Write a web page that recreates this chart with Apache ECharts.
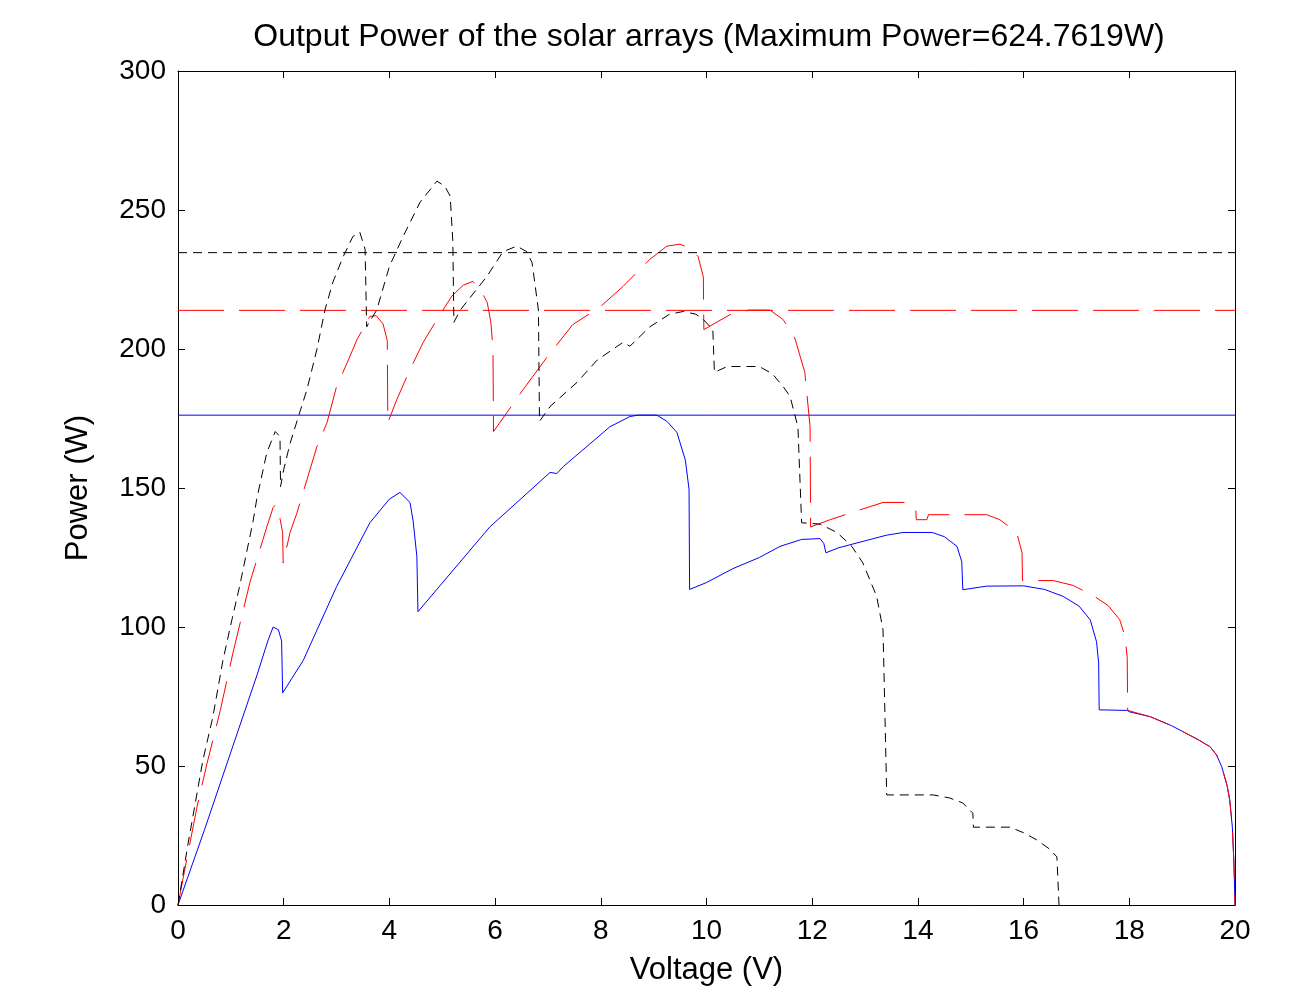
<!DOCTYPE html>
<html>
<head>
<meta charset="utf-8">
<script src="https://cdn.jsdelivr.net/npm/echarts@6/dist/echarts.min.js"></script>
<style>
html,body{margin:0;padding:0;background:#fff;}
#chart{width:1303px;height:998px;}
</style>
</head>
<body>
<div id="chart"></div>
<script>
// ---- data (Voltage V, Power W) ----
const titleText = 'Output Power of the solar arrays (Maximum Power=624.7619W)';
const xTicks = [0, 2, 4, 6, 8, 10, 12, 14, 16, 18, 20];
const yTicks = [0, 50, 100, 150, 200, 250, 300];

const sharedTail = [[18.0,69.5],[18.4,67.7],[18.8,64.5],[19.02,62.3],[19.3,59.5],[19.53,56.9],[19.65,54],[19.75,49.7],[19.85,43],[19.9,37.8],[19.95,28],[19.98,15],[20,0]];

const bluePower = [[0,0],[0.5,27],[1.0,55],[1.5,83],[1.7,95],[1.8,100],[1.9,99],[1.96,95],[1.98,76.3],[2.37,88],[3.0,114.5],[3.63,137.5],[4.0,146],[4.2,148.4],[4.39,144.8],[4.45,138],[4.52,125.3],[4.54,105.5],[5.9,136],[7.04,155.6],[7.17,155.2],[7.29,157.7],[7.74,165],[8.17,172],[8.55,175.7],[8.7,176.2],[9.06,176.2],[9.25,174],[9.44,170],[9.6,160],[9.67,149.5],[9.68,113.5],[10,116],[10.5,121],[11,125],[11.39,129],[11.8,131.5],[12.15,131.8],[12.22,130],[12.26,126.7],[12.5,128.5],[13,131],[13.4,133],[13.72,134],[14.27,134],[14.5,132.5],[14.74,129],[14.83,123.5],[14.85,113.4],[15.3,114.7],[16.0,114.8],[16.4,113.5],[16.75,111],[17.05,107.5],[17.26,102.6],[17.38,94.7],[17.42,87],[17.43,70.2],[17.96,70]];

const redPower = [[0,0],[0.1,10],[0.36,35.3],[0.55,51],[0.8,70],[1.04,90.7],[1.36,116],[1.68,136],[1.8,143],[1.85,144],[1.92,140],[1.98,134],[1.99,123],[2.12,134],[2.25,141],[2.44,153],[2.63,165],[2.82,173.5],[3.0,186.5],[3.2,195],[3.39,203.5],[3.63,211.7],[3.75,212],[3.88,209],[3.96,203],[3.97,173.5],[4.14,181.8],[4.39,192.6],[4.64,202.4],[4.9,210.6],[5.18,219],[5.4,223],[5.58,224.3],[5.7,222],[5.85,216.8],[5.92,209.6],[5.96,200],[5.97,170.3],[6.53,185.4],[6.98,197],[7.47,208.8],[7.98,215],[8.42,222.5],[8.93,232.3],[9.25,237],[9.5,237.7],[9.7,236],[9.84,233.3],[9.94,226],[9.95,207],[10.45,212.4],[10.8,214],[11.2,214],[11.45,210.6],[11.67,204],[11.86,191.6],[11.96,172],[11.97,136],[12.34,138.6],[12.8,141.5],[13.34,144.8],[13.81,144.8],[13.96,142.2],[13.97,138.6],[14.17,138.6],[14.2,140.4],[15.3,140.4],[15.55,138.6],[15.87,134],[15.97,126.7],[15.98,116.7],[16.56,116.7],[16.93,115],[17.3,111.5],[17.6,107.7],[17.82,102.6],[17.92,96.5],[17.96,89.3],[17.97,70]];

const blackPower = [[0,0],[0.19,22],[0.47,52],[0.66,67.7],[0.85,88],[1.02,102.6],[1.17,115],[1.3,127],[1.42,138],[1.49,146],[1.68,162.7],[1.84,170.3],[1.93,168.5],[1.94,150.5],[2.0,156.6],[2.12,166],[2.3,177],[2.44,185.4],[2.63,200],[2.78,214],[2.93,224],[3.12,233],[3.31,240.5],[3.44,242],[3.54,235.9],[3.57,208],[3.76,214],[4.0,229.7],[4.26,240.5],[4.58,252.8],[4.9,260.4],[5.05,258.5],[5.15,255],[5.2,238.8],[5.22,209.6],[5.34,214],[5.84,226],[6.15,235],[6.41,237],[6.6,235],[6.7,231],[6.82,214],[6.84,174],[7.04,179.3],[7.55,188],[7.93,196],[8.42,202.4],[8.55,201],[8.93,208],[9.3,212.5],[9.56,213.5],[9.8,212.5],[9.94,210.6],[10.12,207],[10.15,191.6],[10.39,193.7],[11.0,193.7],[11.25,191],[11.45,186.5],[11.58,183],[11.73,172],[11.8,137.5],[12.15,137],[12.47,134],[12.75,129],[12.96,123],[13.22,111],[13.34,99],[13.41,39.6],[14.29,39.6],[14.6,38.5],[14.85,36.7],[15.04,33],[15.05,28],[15.74,28],[16.0,26],[16.25,23.4],[16.5,20],[16.63,17.3],[16.67,0]];

const maxBlue = 176.2;
const maxRed = 213.9;
const maxBlack = 234.66;
const xRange = [0, 20];

// ---- chart ----
const FONT = 'Liberation Sans';
const chart = echarts.init(document.getElementById('chart'), null, {renderer: 'canvas'});

function hLine(v) { return [[xRange[0], v], [xRange[1], v]]; }

const axisCommon = {
  axisLine: {show: true, onZero: false, lineStyle: {color: '#000', width: 1}},
  axisTick: {show: true, inside: true, length: 7, lineStyle: {color: '#000', width: 1}},
  splitLine: {show: false},
  minorTick: {show: false}
};

chart.setOption({
  animation: false,
  backgroundColor: '#fff',
  textStyle: {fontFamily: FONT},
  title: {
    text: titleText,
    left: 704,
    top: 16,
    textAlign: 'center',
    textStyle: {fontFamily: FONT, fontSize: 32, fontWeight: 'normal', color: '#000'}
  },
  grid: {left: 178, right: 68, top: 71, bottom: 93, containLabel: false},
  xAxis: [
    Object.assign({}, axisCommon, {
      type: 'value', position: 'bottom', min: 0, max: 20, interval: 2,
      name: 'Voltage (V)', nameLocation: 'middle', nameGap: 50,
      nameTextStyle: {fontFamily: FONT, fontSize: 31, color: '#000'},
      axisLabel: {show: true, margin: 12, color: '#000', fontFamily: FONT, fontSize: 28,
        formatter: v => xTicks.includes(v) ? String(v) : ''}
    }),
    Object.assign({}, axisCommon, {
      type: 'value', position: 'top', min: 0, max: 20, interval: 2,
      axisLabel: {show: false}
    })
  ],
  yAxis: [
    Object.assign({}, axisCommon, {
      type: 'value', position: 'left', min: 0, max: 300, interval: 50,
      name: 'Power (W)', nameLocation: 'middle', nameGap: 84,
      nameTextStyle: {fontFamily: FONT, fontSize: 31, color: '#000'},
      axisLabel: {show: true, margin: 12, color: '#000', fontFamily: FONT, fontSize: 28,
        formatter: v => yTicks.includes(v) ? String(v) : ''}
    }),
    Object.assign({}, axisCommon, {
      type: 'value', position: 'right', min: 0, max: 300, interval: 50,
      axisLabel: {show: false}
    })
  ],
  series: [
    {type: 'line', name: 'blue', data: bluePower.concat(sharedTail), showSymbol: false, symbol: 'none',
      lineStyle: {color: '#0000ff', width: 1, type: 'solid'}, z: 2},
    {type: 'line', name: 'red', data: redPower.concat(sharedTail), showSymbol: false, symbol: 'none',
      lineStyle: {color: '#ff0000', width: 1, type: [46, 15]}, z: 3},
    {type: 'line', name: 'black', data: blackPower, showSymbol: false, symbol: 'none',
      lineStyle: {color: '#000000', width: 1, type: [9, 6]}, z: 4},
    {type: 'line', name: 'maxBlue', data: hLine(maxBlue), showSymbol: false, symbol: 'none',
      lineStyle: {color: '#0000ff', width: 1, type: 'solid'}, z: 2},
    {type: 'line', name: 'maxRed', data: hLine(maxRed), showSymbol: false, symbol: 'none',
      lineStyle: {color: '#ff0000', width: 1, type: [46, 15]}, z: 3},
    {type: 'line', name: 'maxBlack', data: hLine(maxBlack), showSymbol: false, symbol: 'none',
      lineStyle: {color: '#000000', width: 1, type: [9, 6]}, z: 4}
  ]
});
</script>
</body>
</html>
